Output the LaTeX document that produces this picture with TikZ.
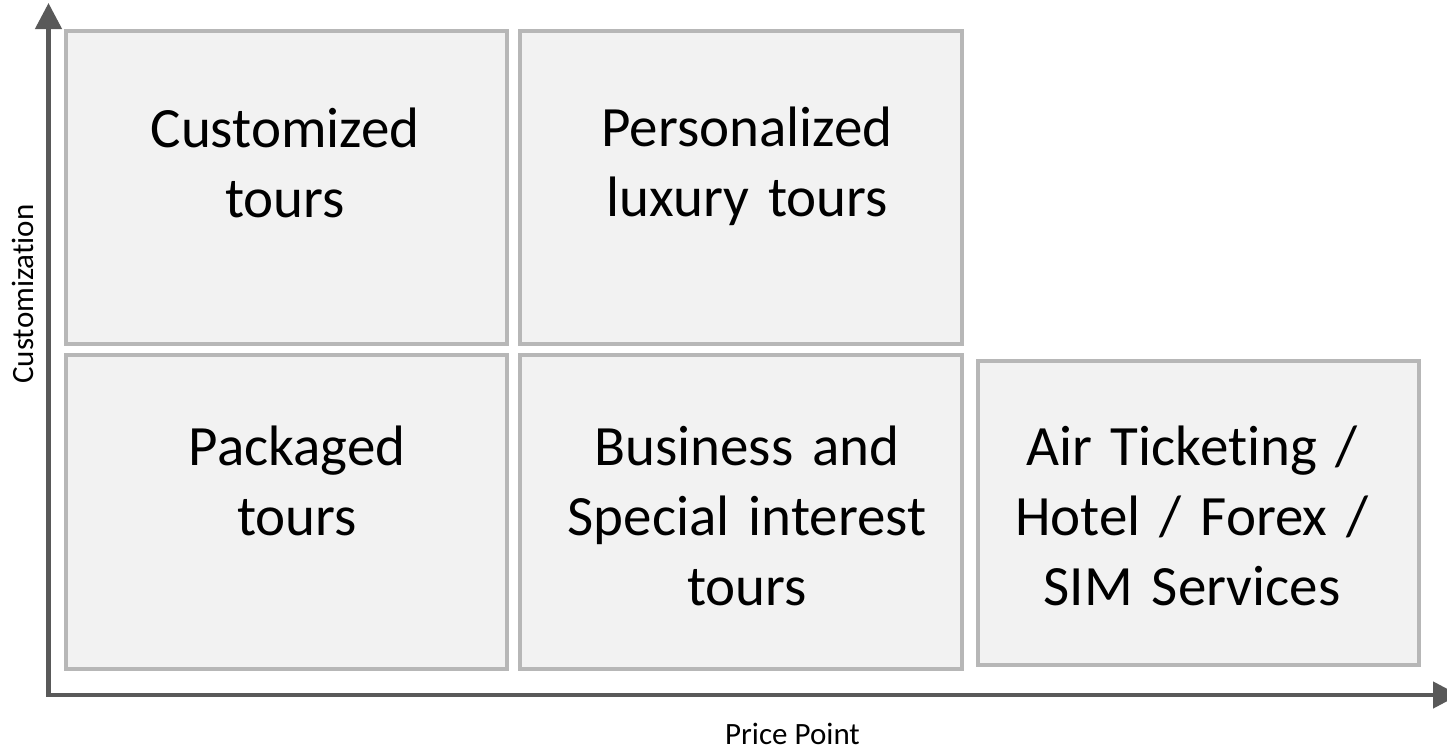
\documentclass[tikz,border=0pt]{standalone}
\usepackage{fontspec}
\setmainfont{Carlito}[Ligatures=NoCommon]
\usetikzlibrary{arrows.meta}
\definecolor{axisgray}{HTML}{595959}
\definecolor{boxline}{HTML}{B7B7B7}
\definecolor{boxfill}{HTML}{F2F2F2}
\tikzset{
  quad/.style={draw=boxline, fill=boxfill, line width=3.5pt, rectangle, inner sep=0pt, anchor=north west},
  axisline/.style={draw=axisgray, line width=4.5pt, -{Triangle[length=26pt,width=26pt]}},
  bigtxt/.style={font=\fontsize{57}{70}\selectfont, text width=420pt, align=center, anchor=base, inner sep=0pt},
  axtxt/.style={font=\fontsize{31}{36}\selectfont, anchor=base, inner sep=0pt}
}
\begin{document}
\begin{tikzpicture}[x=1pt,y=-1pt]
\useasboundingbox (0,0) rectangle (1447,747);
% boxes
\node[quad, minimum width=441pt, minimum height=313pt] (b1) at (64,29) {};
\node[quad, minimum width=442pt, minimum height=313pt] (b2) at (518,29) {};
\node[quad, minimum width=441pt, minimum height=314pt] (b3) at (64,353) {};
\node[quad, minimum width=442pt, minimum height=314pt] (b4) at (518,353) {};
\node[quad, minimum width=441pt, minimum height=304pt] (b5) at (976,359) {};
% texts
\node[bigtxt] (t1) at (285,147) {Customized\\tours};
\node[bigtxt] (t2) at (747,146) {Personalized\\luxury tours};
\node[bigtxt] (t3) at (297,465) {Packaged\\tours};
\node[bigtxt] (t4) at (747,465) {Business and\\Special interest\\tours};
\node[bigtxt] (t5) at (1192,465) {Air Ticketing /\\Hotel / Forex /\\SIM Services};
% axes
\coordinate (ybot) at (48.5,693);
\coordinate (ytop) at (48.5,3);
\coordinate (xleft) at (46,695);
\coordinate (xright) at (1459,695);
\draw[axisline] (ybot) -- (ytop);
\draw[axisline] (xleft) -- (xright);
% axis labels
\node[axtxt] (xl) at (792.5,744) {Price Point};
\node[axtxt, rotate=90] (yl) at (33,294) {Customization};
\end{tikzpicture}
\end{document}
